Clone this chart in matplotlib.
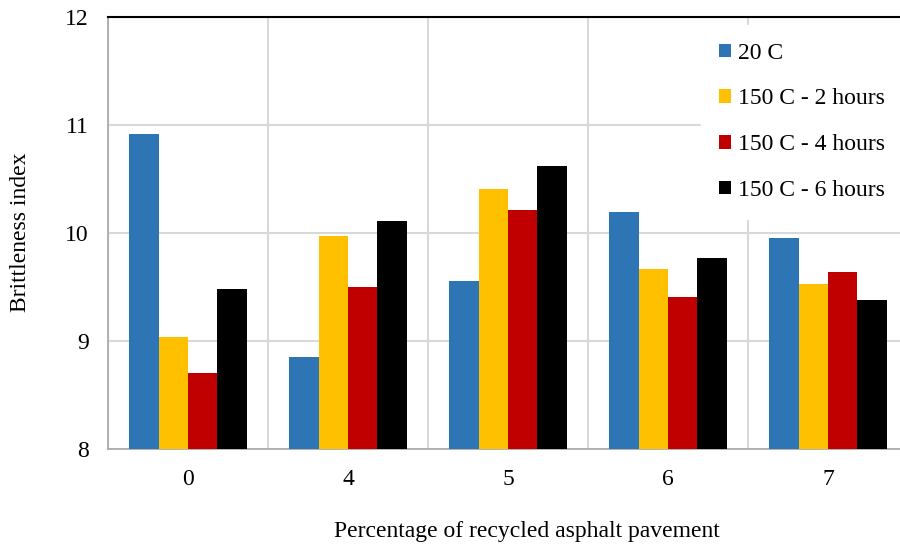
import matplotlib
matplotlib.use("Agg")
import matplotlib.pyplot as plt
import numpy as np

categories = ["0", "4", "5", "6", "7"]
series_names = ["20 C", "150 C - 2 hours", "150 C - 4 hours", "150 C - 6 hours"]
s20 = [10.92, 8.85, 9.56, 10.19, 9.95]
s150_2 = [9.04, 9.97, 10.41, 9.67, 9.53]
s150_4 = [8.70, 9.50, 10.21, 9.41, 9.64]
s150_6 = [9.48, 10.11, 10.62, 9.77, 9.38]
colors = ["#2E75B6", "#FFC000", "#C00000", "#000000"]
yticks = [8, 9, 10, 11, 12]

plt.rcParams['font.family'] = ['Liberation Serif', 'DejaVu Serif']
fs = 17

fig = plt.figure(figsize=(9, 5.46), dpi=100)
ax = fig.add_axes([108/900, 1-449/546, 800/900, 432/546])

x = np.arange(len(categories))
w = 0.183
data = [s20, s150_2, s150_4, s150_6]
for i, (vals, c, name) in enumerate(zip(data, colors, series_names)):
    ax.bar(x + (i - 1.5) * w, np.array(vals) - 8, bottom=8, width=w, color=c,
           label=name, zorder=3)

ax.set_xlim(-0.5, len(categories) - 0.5)
ax.set_ylim(8, 12)
ax.set_yticks(yticks)
ax.set_yticklabels([str(t) for t in yticks], fontsize=fs)
ax.set_xticks(x)
ax.set_xticklabels(categories, fontsize=fs)
ax.tick_params(axis='y', length=0, pad=14)
ax.tick_params(axis='x', length=0, pad=14.5)
ax.set_xticks(np.arange(len(categories) + 1) - 0.5, minor=True)
ax.tick_params(which='minor', length=0)
ax.grid(axis='y', which='major', color='#D9D9D9', linewidth=1.5, zorder=0)
ax.grid(axis='x', which='minor', color='#D9D9D9', linewidth=1.5, zorder=0)
ax.grid(axis='x', which='major', visible=False)

for s in ['left', 'bottom']:
    ax.spines[s].set_color('#A6A6A6')
    ax.spines[s].set_linewidth(1.2)
ax.spines['top'].set_color('black')
ax.spines['top'].set_linewidth(1.5)
ax.spines['right'].set_visible(False)

fig.text(21/900, 1-232/546, "Brittleness index", fontsize=fs,
         rotation=90, ha='center', va='center')
fig.text(527/900, 1-531/546, "Percentage of recycled asphalt pavement",
         fontsize=fs, ha='center', va='center')

leg = ax.legend(loc='upper left', bbox_to_anchor=(701/900, 1-25/546),
                bbox_transform=fig.transFigure, frameon=True, fontsize=fs,
                handlelength=0.5, handleheight=0.5, handletextpad=0.3,
                labelspacing=1.05, borderpad=0.75, borderaxespad=0)
leg.get_frame().set_facecolor('white')
leg.get_frame().set_edgecolor('white')
leg.get_frame().set_alpha(1)
leg.get_frame().set_boxstyle('square', pad=0)
leg.set_zorder(5)

fig.savefig("out.png", dpi=100)
